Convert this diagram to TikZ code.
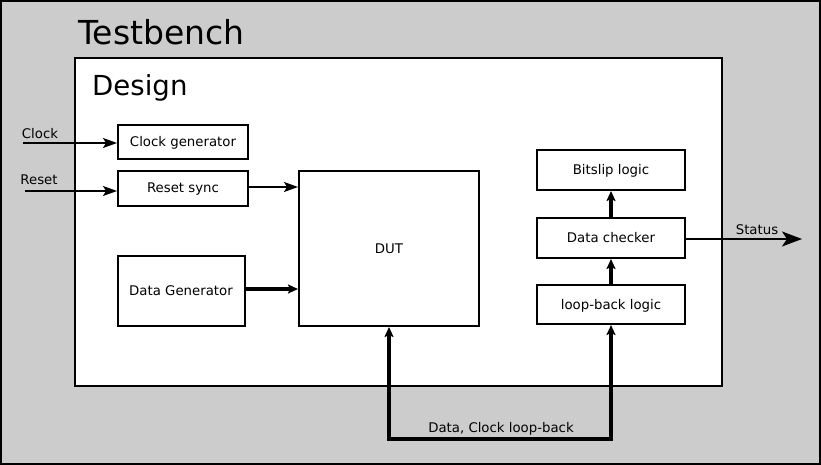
\documentclass[tikz,border=0pt]{standalone}
\usepackage{fontspec}
\setmainfont{DejaVu Sans}
\usetikzlibrary{arrows.meta}
\definecolor{tbgray}{HTML}{CCCCCC}
\begin{document}
\begin{tikzpicture}[x=1pt,y=-1pt,
  blk/.style={draw=black,line width=2pt,fill=white,rectangle,inner sep=0pt,text height=11pt,text depth=2pt,font=\fontsize{13.3}{15}\selectfont},
  thinarr/.style={line width=1.4pt,-{Stealth[length=14pt,width=10pt,inset=3pt]}},
  thickarr/.style={line width=3.6pt,-{Stealth[length=10pt,width=9pt,inset=2pt]}},
  lbl/.style={font=\fontsize{13.3}{15}\selectfont,inner sep=0pt}]
\useasboundingbox (0,0) rectangle (821,465);
\draw[line width=2pt,fill=tbgray] (1,1) rectangle (820,464);
\node[anchor=base west,inner sep=0pt,font=\fontsize{33}{38}\selectfont] (tb) at (78,45) {Testbench};
\draw[line width=2pt,fill=white] (75,58) rectangle (722,386);
\node[anchor=base west,inner sep=0pt,font=\fontsize{27.6}{32}\selectfont] (des) at (92,96) {Design};
% blocks
\node[blk,minimum width=130pt,minimum height=34pt] (clk) at (183,142) {Clock generator};
\node[blk,minimum width=130pt,minimum height=35pt] (rst) at (183,188.5) {Reset sync};
\node[blk,minimum width=127pt,minimum height=70pt] (dg) at (181,290.5) {Data Generator};
\node[blk,minimum width=180pt,minimum height=155pt] (dut) at (389,248.5) {DUT};
\node[blk,minimum width=148pt,minimum height=40pt] (bs) at (611,170) {Bitslip logic};
\node[blk,minimum width=148pt,minimum height=40pt] (dc) at (611,238) {Data checker};
\node[blk,minimum width=148pt,minimum height=39pt] (lb) at (611,304.5) {loop-back logic};
% inputs
\coordinate (clkin) at (23,143);
\coordinate (rstin) at (25,191);
\coordinate (statout) at (802,239);
\node[lbl] (clklbl) at (40,134) {Clock};
\node[lbl] (rstlbl) at (39,180) {Reset};
\draw[thinarr] (clkin) -- (clkin -| clk.west);
\draw[thinarr] (rstin) -- (rstin -| rst.west);
\draw[thinarr] (rst.east |- 0,187) -- (dut.west |- 0,187);
\draw[thickarr] (dg.east |- 0,289) -- (dut.west |- 0,289);
\draw[thickarr] (dc.north) -- (bs.south);
\draw[thickarr] (lb.north) -- (dc.north |- dc.south);
\draw[line width=1.4pt,-{Stealth[length=20pt,width=15pt,inset=5pt]}] (dc.east |- statout) -- (statout);
\node[lbl] (statlbl) at (757,230) {Status};
% loop-back
\coordinate (lbc) at (389,439);
\draw[line width=3.6pt,{Stealth[length=10pt,width=9pt,inset=2pt]}-{Stealth[length=10pt,width=9pt,inset=2pt]}] (dut.south) -- (lbc) -| (lb.south);
\node[lbl] (lblb) at (501,429) {Data, Clock loop-back};
\end{tikzpicture}
\end{document}
